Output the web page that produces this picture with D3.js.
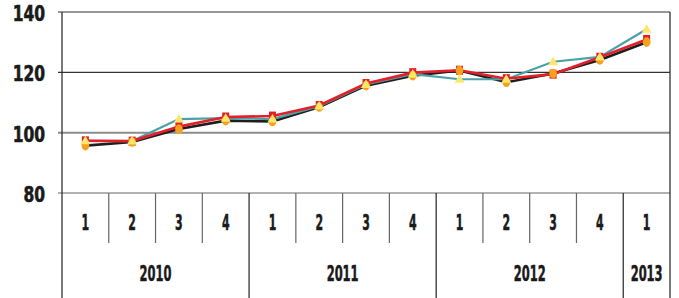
<!DOCTYPE html>
<html>
<head>
<meta charset="utf-8">
<script src="https://cdn.jsdelivr.net/npm/d3@7"></script>
<style>
  body { margin: 0; background: #fff; }
  svg { display: block; }
  text { font-family: "Liberation Sans Narrow", "DejaVu Sans Condensed", "Arial Narrow", sans-serif; font-weight: bold; }
</style>
</head>
<body>
<svg id="chart" width="679" height="298"></svg>
<script>
// quarters along the x axis, grouped by year
var quarters = ["1", "2", "3", "4", "1", "2", "3", "4", "1", "2", "3", "4", "1"];
var years = ["2010", "2011", "2012", "2013"];
var yearSpans = [4, 4, 4, 1];   // number of quarters per year

// series
var blackSeries = [95.7, 96.9, 101.2, 104.0, 103.7, 108.5, 115.6, 118.9, 120.6, 116.7, 119.6, 124.1, 130.0];
var tealSeries  = [97.3, 97.2, 104.5, 104.8, 104.5, 108.8, 116.0, 119.4, 117.7, 117.7, 123.5, 125.1, 134.3];
var redSeries   = [97.3, 97.2, 102.0, 105.2, 105.5, 109.0, 116.3, 119.9, 120.7, 117.9, 119.4, 125.0, 130.9];

var yTicks = [80, 100, 120, 140];

var svg = d3.select("#chart");

var plotLeft = 62, plotRight = 670, plotTop = 12, plotBottom = 193;
var catRowBottom = 243, yearRowBottom = 298;
var fontStack = "'Liberation Sans Narrow', 'DejaVu Sans Condensed', sans-serif";

var x = d3.scaleBand()
  .domain(d3.range(quarters.length))
  .range([plotLeft, plotRight])
  .padding(0);

var y = d3.scaleLinear()
  .domain([80, 140])
  .range([plotBottom, plotTop]);

// horizontal gridlines, with short ticks to the left of the axis
svg.append("g").selectAll("line")
  .data(yTicks)
  .join("line")
  .attr("x1", plotLeft - 4).attr("x2", plotRight)
  .attr("y1", function(d) { return y(d); })
  .attr("y2", function(d) { return y(d); })
  .attr("stroke", function(d) { return d == 100 ? "#8c8c8c" : (d == 80 ? "#666" : "#333"); })
  .attr("stroke-width", function(d) { return d == 100 ? 2 : 1.2; });

// y labels through a d3 axis
var yAxis = d3.axisLeft(y).tickValues(yTicks).tickSize(0).tickPadding(0);
var yG = svg.append("g")
  .attr("transform", "translate(45,0)")
  .call(yAxis);
yG.select(".domain").remove();
yG.selectAll(".tick text")
  .attr("dy", null)
  .attr("x", null)
  .attr("transform", "translate(0,8.5) scale(0.82,1)")
  .attr("font-size", 21)
  .attr("fill", "#1a1a1a")
  .attr("stroke", "#1a1a1a").attr("stroke-width", 0.6)
  .style("font-family", fontStack)
  .style("font-weight", "bold");

// frame: left and right edges run down through the label rows
svg.append("line").attr("x1", plotLeft).attr("x2", plotLeft).attr("y1", plotTop).attr("y2", yearRowBottom)
  .attr("stroke", "#222").attr("stroke-width", 1.2);
svg.append("line").attr("x1", plotRight).attr("x2", plotRight).attr("y1", plotTop).attr("y2", yearRowBottom)
  .attr("stroke", "#222").attr("stroke-width", 1.2);

// year boundaries and quarter dividers
var yearStarts = [];
var acc = 0;
for (var i = 0; i < yearSpans.length; i++) { yearStarts.push(acc); acc += yearSpans[i]; }

var dividers = d3.range(1, quarters.length);
svg.append("g").selectAll("line")
  .data(dividers)
  .join("line")
  .attr("x1", function(d) { return x(d); })
  .attr("x2", function(d) { return x(d); })
  .attr("y1", plotBottom)
  .attr("y2", function(d) { return yearStarts.indexOf(d) >= 0 ? yearRowBottom : catRowBottom; })
  .attr("stroke", function(d) { return yearStarts.indexOf(d) >= 0 ? "#222" : "#666"; })
  .attr("stroke-width", 1.2);

// quarter labels
var xAxis = d3.axisBottom(x).tickSize(0).tickFormat(function(d) { return quarters[d]; });
var xG = svg.append("g").attr("transform", "translate(0," + plotBottom + ")").call(xAxis);
xG.select(".domain").remove();
xG.selectAll(".tick text")
  .attr("y", null).attr("dy", null)
  .attr("transform", "translate(0,37) scale(0.58,1)")
  .attr("font-size", 21)
  .attr("fill", "#1a1a1a")
  .attr("stroke", "#1a1a1a").attr("stroke-width", 0.5)
  .style("font-family", fontStack)
  .style("font-weight", "bold");

// year labels centred under their quarters
svg.append("g").selectAll("text")
  .data(years)
  .join("text")
  .attr("transform", function(d, i) {
    var x0 = x(yearStarts[i]);
    var x1 = x(yearStarts[i] + yearSpans[i] - 1) + x.bandwidth();
    return "translate(" + ((x0 + x1) / 2) + ",281) scale(0.58,1)";
  })
  .attr("text-anchor", "middle")
  .attr("font-size", 22)
  .attr("fill", "#1a1a1a")
  .attr("stroke", "#1a1a1a").attr("stroke-width", 0.5)
  .style("font-family", fontStack)
  .text(function(d) { return d; });

// lines
var lineGen = d3.line()
  .x(function(d, i) { return x(i) + x.bandwidth() / 2; })
  .y(function(d) { return y(d); });

svg.append("path").datum(blackSeries).attr("d", lineGen)
  .attr("fill", "none").attr("stroke", "#1e1e1e").attr("stroke-width", 2.6);
svg.append("path").datum(tealSeries).attr("d", lineGen)
  .attr("fill", "none").attr("stroke", "#4aa2a8").attr("stroke-width", 2.2);
svg.append("path").datum(redSeries).attr("d", lineGen)
  .attr("fill", "none").attr("stroke", "#e3202a").attr("stroke-width", 2.6);

// markers
svg.append("g").selectAll("rect")
  .data(redSeries)
  .join("rect")
  .attr("x", function(d, i) { return x(i) + x.bandwidth() / 2 - 3.5; })
  .attr("y", function(d) { return y(d) - 4.5; })
  .attr("width", 7).attr("height", 9)
  .attr("fill", "#e41f26");

svg.append("g").selectAll("ellipse")
  .data(blackSeries)
  .join("ellipse")
  .attr("cx", function(d, i) { return x(i) + x.bandwidth() / 2; })
  .attr("cy", function(d) { return y(d); })
  .attr("rx", 3.8).attr("ry", 4.8)
  .attr("fill", "#f6a01b");

svg.append("g").selectAll("path")
  .data(tealSeries)
  .join("path")
  .attr("d", function(d, i) {
    var cx = x(i) + x.bandwidth() / 2, cy = y(d);
    return "M" + cx + "," + (cy - 5) + "L" + (cx + 5) + "," + (cy + 3.5) + "L" + (cx - 5) + "," + (cy + 3.5) + "Z";
  })
  .attr("fill", "#fce66b");
</script>
</body>
</html>
